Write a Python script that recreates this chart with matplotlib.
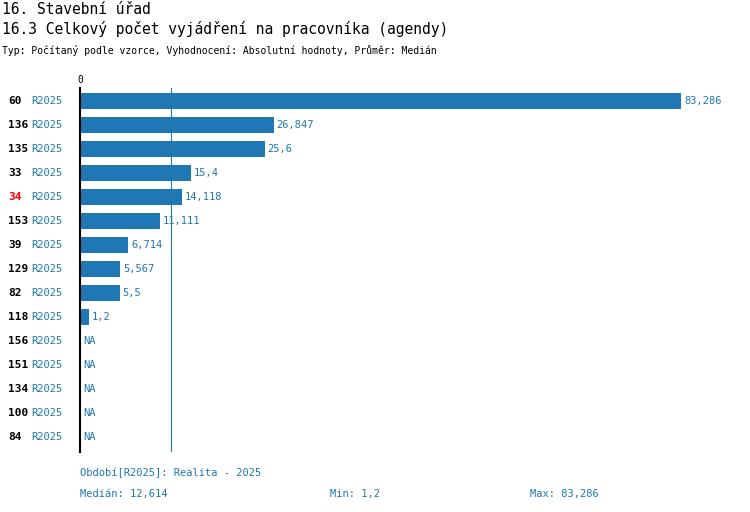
import matplotlib.pyplot as plt

ids = ['60', '136', '135', '33', '34', '153', '39', '129', '82', '118', '156', '151', '134', '100', '84']
values = [83.286, 26.847, 25.6, 15.4, 14.118, 11.111, 6.714, 5.567, 5.5, 1.2, None, None, None, None, None]
labels = ['83,286', '26,847', '25,6', '15,4', '14,118', '11,111', '6,714', '5,567', '5,5', '1,2', 'NA', 'NA', 'NA', 'NA', 'NA']
period = 'R2025'
median = 12.614
highlight = '34'

plt.rcParams['font.family'] = ['DejaVu Sans Mono']
W, H = 750, 512
fig = plt.figure(figsize=(7.5, 5.12), dpi=100)
ax = fig.add_axes([80 / W, 1 - 452 / H, 601 / W, (452 - 88) / H])
ax.set_xlim(0, 83.286)
ax.set_ylim((452 - 101) / 24, -13 / 24)
blue = '#1f77b4'
for i, (v, lab) in enumerate(zip(values, labels)):
    w = v if v is not None else 0
    if v is not None:
        ax.barh(i, w, height=0.68, color=blue)
    ax.text(w + 0.4, i, lab, color=blue, fontsize=7.5, va='center', ha='left')
    ax.text(-4.6, i, period, color=blue, fontsize=7.5, va='center', ha='center')
    ax.text(-10, i, ids[i], color='red' if ids[i] == highlight else 'black',
            fontsize=8, fontweight='bold', va='center', ha='left')
ax.axvline(median, color=blue, lw=0.8)
for s in ['top', 'right', 'bottom']:
    ax.spines[s].set_visible(False)
ax.spines['left'].set_linewidth(1.5)
ax.set_yticks([])
ax.set_xticks([0])
ax.xaxis.tick_top()
ax.tick_params(axis='x', length=0, labelsize=7, pad=2)

fig.text(2 / W, 1 - 9 / H, '16. Stavební úřad', fontsize=10.5, va='center')
fig.text(2 / W, 1 - 29 / H, '16.3 Celkový počet vyjádření na pracovníka (agendy)', fontsize=10.5, va='center')
fig.text(2 / W, 1 - 50 / H, 'Typ: Počítaný podle vzorce, Vyhodnocení: Absolutní hodnoty, Průměr: Medián', fontsize=7, va='center')
fig.text(80 / W, 1 - 473 / H, 'Období[R2025]: Realita - 2025', fontsize=7.5, color=blue, va='center')
fig.text(80 / W, 1 - 494 / H, 'Medián: 12,614', fontsize=7.5, color=blue, va='center')
fig.text(330 / W, 1 - 494 / H, 'Min: 1,2', fontsize=7.5, color=blue, va='center')
fig.text(530 / W, 1 - 494 / H, 'Max: 83,286', fontsize=7.5, color=blue, va='center')
fig.savefig('out.png', dpi=100)
